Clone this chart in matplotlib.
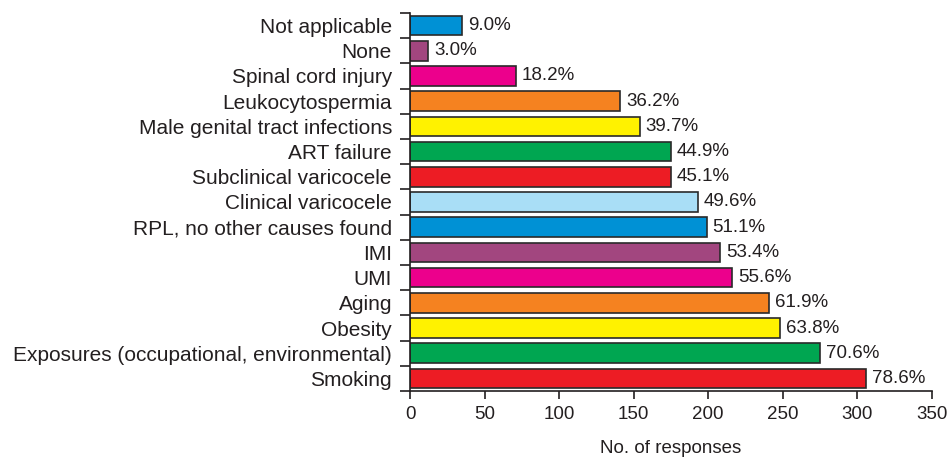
import matplotlib.pyplot as plt
import numpy as np

plt.rcParams['font.family'] = ['Liberation Sans', 'DejaVu Sans']

categories = ['Not applicable', 'None', 'Spinal cord injury', 'Leukocytospermia',
              'Male genital tract infections', 'ART failure', 'Subclinical varicocele',
              'Clinical varicocele', 'RPL, no other causes found', 'IMI', 'UMI', 'Aging',
              'Obesity', 'Exposures (occupational, environmental)', 'Smoking']
responses = [35, 12, 71, 141, 154, 175, 175, 193, 199, 208, 216, 241, 248, 275, 306]
percents = ['9.0%', '3.0%', '18.2%', '36.2%', '39.7%', '44.9%', '45.1%', '49.6%',
            '51.1%', '53.4%', '55.6%', '61.9%', '63.8%', '70.6%', '78.6%']
colors = ['#0091d5', '#a2467f', '#ec008c', '#f58220', '#fff200', '#00a651', '#ed1c24',
          '#a9def6', '#0091d5', '#a2467f', '#ec008c', '#f58220', '#fff200', '#00a651', '#ed1c24']

txt = '#231f20'
fig = plt.figure(figsize=(9.48, 4.57), dpi=100)
ax = fig.add_axes([0.4325, 0.1444, 0.5505, 0.8272])

y = np.arange(len(categories))
ax.barh(y, responses, height=0.78, color=colors, edgecolor='#2a2a2a', linewidth=1.2)
for yi, v, p in zip(y, responses, percents):
    ax.text(v + 4, yi, p, va='center', ha='left', fontsize=13.5, color=txt)

ax.set_ylim(len(categories) - 0.5, -0.5)
ax.set_xlim(0, 350)
ax.set_xticks(range(0, 351, 50))
ax.set_yticks(y)
ax.set_yticklabels(categories, fontsize=15, color=txt)
ax.set_yticks(np.arange(len(categories) + 1) - 0.5, minor=True)
ax.tick_params(axis='y', which='major', length=0, pad=13)
ax.tick_params(axis='y', which='minor', length=7, width=1.2, color=txt)
ax.tick_params(axis='x', length=6, width=1.2, color=txt, labelsize=13.5, labelcolor=txt, pad=5)

for s in ['top', 'right']:
    ax.spines[s].set_visible(False)
for s in ['left', 'bottom']:
    ax.spines[s].set_linewidth(1.2)
    ax.spines[s].set_color(txt)

ax.set_xlabel('No. of responses', fontsize=13.5, color=txt, labelpad=12)

fig.savefig('out.png', dpi=100)
